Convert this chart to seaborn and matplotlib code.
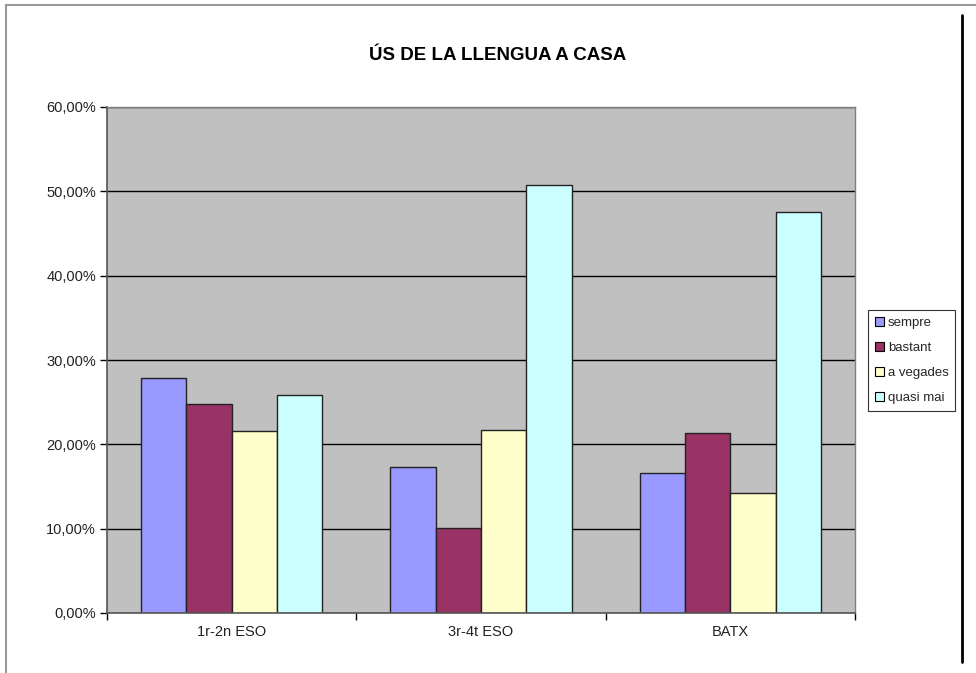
import matplotlib
matplotlib.use("Agg")
import matplotlib.pyplot as plt
from matplotlib.lines import Line2D
from matplotlib.ticker import FuncFormatter, FixedLocator
import pandas as pd
import seaborn as sns

# Survey data: language use at home, share of answers per school level
grups = ["1r-2n ESO", "3r-4t ESO", "BATX"]
respostes = ["sempre", "bastant", "a vegades", "quasi mai"]
sempre = [27.9, 17.3, 16.6]
bastant = [24.8, 10.1, 21.4]
a_vegades = [21.6, 21.7, 14.2]
quasi_mai = [25.8, 50.7, 47.6]
colors = ["#9999FF", "#993366", "#FFFFCC", "#CCFFFF"]

rows = []
for nom, vals in zip(respostes, [sempre, bastant, a_vegades, quasi_mai]):
    for g, v in zip(grups, vals):
        rows.append({"grup": g, "resposta": nom, "valor": v})
df = pd.DataFrame(rows)

sns.set_theme(style="white")
plt.rcParams["font.family"] = ["Liberation Sans", "DejaVu Sans"]

fig = plt.figure(figsize=(9.76, 6.73), dpi=100)
ax = fig.add_axes([107 / 976, 1 - 613 / 673, (855 - 107) / 976, (613 - 107) / 673])

sns.barplot(
    data=df, x="grup", y="valor", hue="resposta",
    order=grups, hue_order=respostes, palette=colors,
    width=0.727, gap=0, edgecolor="#222222", linewidth=1.0,
    saturation=1, ax=ax, legend=False,
)

ax.set_facecolor("#C0C0C0")
ax.set_xlim(-0.5, 2.5)
ax.set_ylim(0, 60)
ax.set_yticks(range(0, 61, 10))
ax.yaxis.set_major_formatter(FuncFormatter(lambda v, p: f"{v:.2f}%".replace(".", ",")))
ax.grid(axis="y", color="#000000", linewidth=1.0)
ax.set_axisbelow(True)

ax.set_xlabel("")
ax.set_ylabel("")
ax.xaxis.set_minor_locator(FixedLocator([-0.5, 0.5, 1.5, 2.5]))
ax.tick_params(axis="x", which="major", length=0, pad=9, labelsize=10.5, colors="#000000")
ax.tick_params(axis="x", which="minor", length=5, width=1, direction="out", color="#000000", bottom=True)
ax.tick_params(axis="y", length=5, width=1, direction="out", color="#000000", left=True, labelsize=10.5, pad=3)
for lab in ax.get_xticklabels() + ax.get_yticklabels():
    lab.set_color("#222222")

for side in ["top", "right"]:
    ax.spines[side].set_color("#808080")
    ax.spines[side].set_linewidth(1.0)
for side in ["left", "bottom"]:
    ax.spines[side].set_color("#555555")
    ax.spines[side].set_linewidth(1.2)

fig.text(498 / 976, 1 - 55 / 673, "ÚS DE LA LLENGUA A CASA", ha="center", va="center",
         fontsize=13.5, fontweight="bold", color="#000000")

handles = [plt.Rectangle((0, 0), 1, 1, facecolor=c, edgecolor="#000000", linewidth=0.8) for c in colors]
leg = fig.legend(
    handles, respostes, loc="upper left",
    bbox_to_anchor=(868 / 976, 1 - 310 / 673),
    frameon=True, fancybox=False, fontsize=9.5,
    handlelength=0.75, handleheight=0.75, handletextpad=0.25,
    labelspacing=0.95, borderpad=0.5, borderaxespad=0,
)
leg.get_frame().set_edgecolor("#000000")
leg.get_frame().set_linewidth(0.8)

# page frame lines
fig.add_artist(Line2D([6 / 976, 1.0], [1 - 5 / 673] * 2, color="#999999", linewidth=1.5))
fig.add_artist(Line2D([6 / 976] * 2, [0, 1 - 5 / 673], color="#999999", linewidth=1.5))
fig.add_artist(Line2D([962 / 976] * 2, [1 - 15 / 673, 1 - 662 / 673], color="#000000", linewidth=2))

fig.savefig("out.png", dpi=100, facecolor="white")
